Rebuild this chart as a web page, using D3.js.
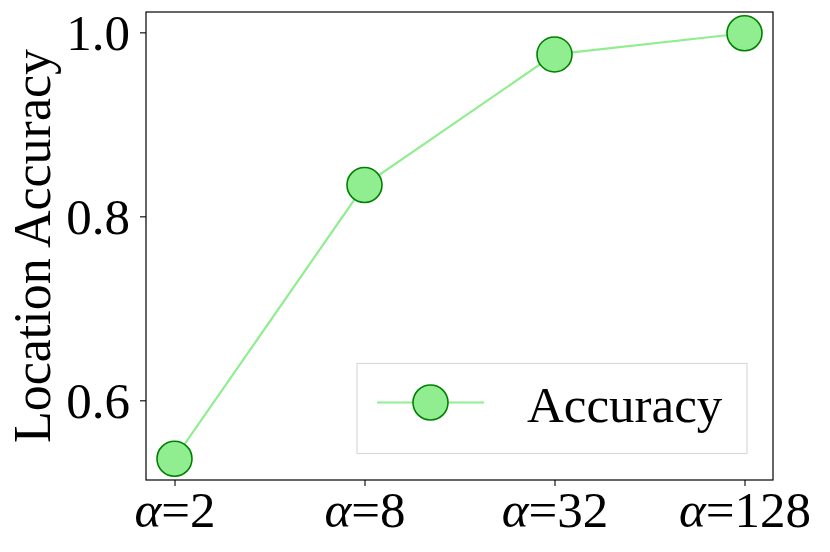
<!DOCTYPE html>
<html><head><meta charset="utf-8">
<script src="https://cdn.jsdelivr.net/npm/d3@7"></script>
<style>body{margin:0;background:#fff}svg{display:block}</style>
</head><body><svg id="c" width="830" height="552"></svg>
<script>
const categories = ["2", "8", "32", "128"];
const accuracy = [0.5365, 0.834, 0.976, 0.999];
const yTicks = [0.6, 0.8, 1.0];
const seriesName = "Accuracy";
const yLabel = "Location Accuracy";

const svg = d3.select("#c");
const L = 146, R = 773, T = 12, B = 480;
const font = "'Liberation Serif','Times New Roman',serif";
const fs = 51;

const x = d3.scalePoint().domain(categories).range([L, R]).padding(0.15);
const ymin = d3.min(accuracy), ymax = d3.max(accuracy), m = (ymax - ymin) * 0.05;
const y = d3.scaleLinear().domain([ymin - m, ymax + m]).range([B, T]);

// x axis
const xa = svg.append("g").attr("transform", `translate(0,${B})`)
  .call(d3.axisBottom(x).tickSize(6).tickPadding(8).tickFormat(() => ""));
xa.select(".domain").remove();
xa.selectAll(".tick line").attr("stroke", "#000").attr("stroke-width", 1.1);
xa.selectAll(".tick text").remove();
xa.selectAll(".tick").append("text")
  .attr("y", 47).attr("text-anchor", "middle")
  .style("font-family", font).style("font-size", fs + "px").attr("fill", "#000")
  .each(function(d) {
    const t = d3.select(this);
    t.append("tspan").style("font-style", "italic").text("α");
    t.append("tspan").text("=" + d);
  });

// y axis
const ya = svg.append("g").attr("transform", `translate(${L},0)`)
  .call(d3.axisLeft(y).tickValues(yTicks).tickSize(6).tickPadding(10).tickFormat(d3.format(".1f")));
ya.select(".domain").remove();
ya.selectAll(".tick line").attr("stroke", "#000").attr("stroke-width", 1.1);
ya.selectAll(".tick text").style("font-family", font).style("font-size", fs + "px")
  .attr("fill", "#000").attr("dy", "0.34em");

// frame
svg.append("rect").attr("x", L).attr("y", T).attr("width", R - L).attr("height", B - T)
  .attr("fill", "none").attr("stroke", "#000").attr("stroke-width", 1.2);

// y label
svg.append("text").attr("transform", `translate(50,${(T + B) / 2}) rotate(-90)`)
  .attr("text-anchor", "middle")
  .style("font-family", font).style("font-size", "52px").attr("fill", "#000")
  .text(yLabel);

// line
const data = categories.map((c, i) => ({c, v: accuracy[i]}));
svg.append("path").datum(data)
  .attr("d", d3.line().x(d => x(d.c)).y(d => y(d.v)))
  .attr("fill", "none").attr("stroke", "#90EE90").attr("stroke-width", 2.2);
svg.selectAll("circle.pt").data(data).join("circle").attr("class", "pt")
  .attr("cx", d => x(d.c)).attr("cy", d => y(d.v)).attr("r", 17.5)
  .attr("fill", "#90EE90").attr("stroke", "#008000").attr("stroke-width", 1.6);

// legend
const lg = svg.append("g");
lg.append("rect").attr("x", 357).attr("y", 363.5).attr("width", 390).attr("height", 90)
  .attr("fill", "#fff").attr("fill-opacity", 0.8).attr("stroke", "#d9d9d9").attr("stroke-width", 1.2);
lg.append("line").attr("x1", 377).attr("x2", 484).attr("y1", 402.5).attr("y2", 402.5)
  .attr("stroke", "#90EE90").attr("stroke-width", 2.2);
lg.append("circle").attr("cx", 430.5).attr("cy", 402.5).attr("r", 17.5)
  .attr("fill", "#90EE90").attr("stroke", "#008000").attr("stroke-width", 1.6);
lg.append("text").attr("x", 527).attr("y", 421.5)
  .style("font-family", font).style("font-size", fs + "px").attr("fill", "#000")
  .text(seriesName);
</script></body></html>
